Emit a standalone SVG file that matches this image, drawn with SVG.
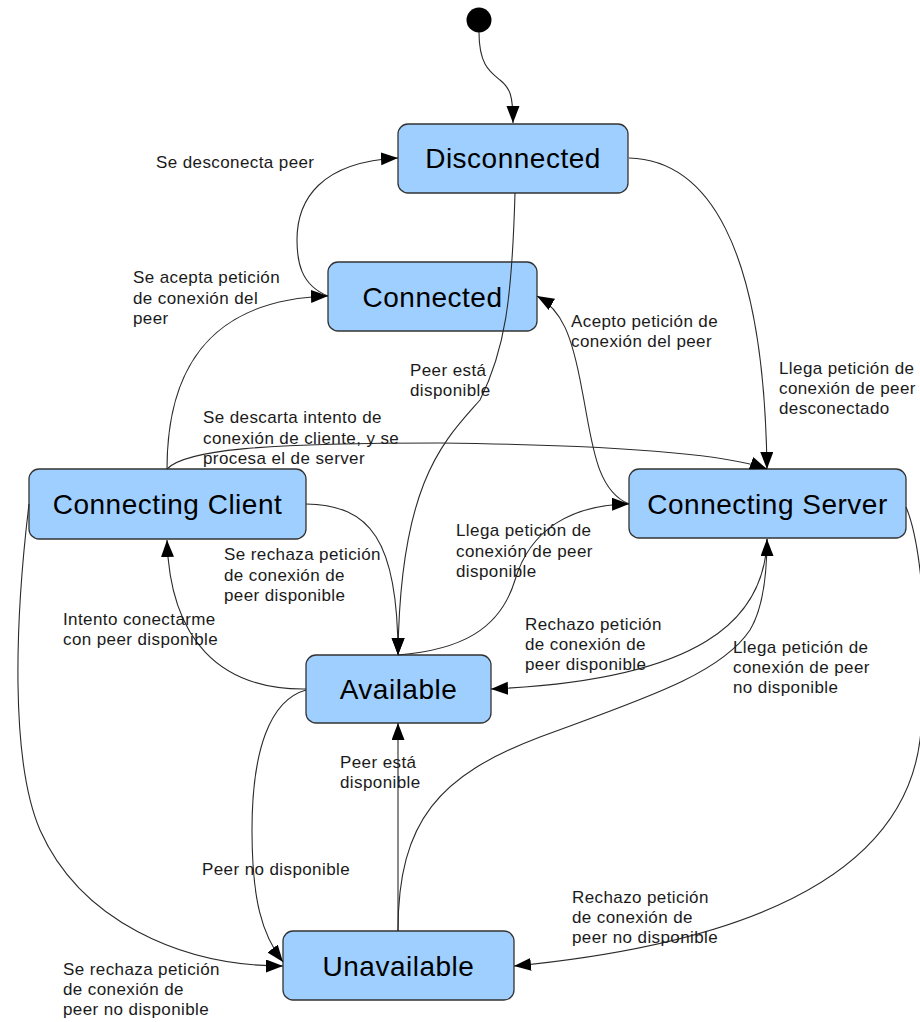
<svg xmlns="http://www.w3.org/2000/svg" width="920" height="1022" viewBox="0 0 920 1022">
  <style>
    .state rect { fill: #9fcfff; stroke: #333333; stroke-width: 1.3; }
    .state text { font-family: "Liberation Sans", Arial, sans-serif; font-size: 28px; letter-spacing: 0.5px; fill: #000000; text-anchor: middle; }
    .edge { fill: none; stroke: #2a2a2a; stroke-width: 1.1; marker-end: url(#arrow); }
    .label { font-family: "Liberation Sans", Arial, sans-serif; font-size: 17px; letter-spacing: 0.4px; fill: #1a1a1a; }
  </style>
  <defs>
    <marker id="arrow" markerUnits="userSpaceOnUse" markerWidth="18" markerHeight="14" refX="17" refY="6.5" orient="auto">
      <path d="M0,0 L17,6.5 L0,13 z" fill="#000000"/>
    </marker>
  </defs>

  <rect width="920" height="1022" fill="#ffffff"/>

  <!-- initial pseudo-state -->
  <g id="initial">
    <circle cx="479" cy="20" r="12.5" fill="#000000"/>
  </g>

  <!-- states -->
  <g id="disconnected" class="state">
    <rect x="398" y="124" width="230" height="69" rx="10" ry="10"/>
    <text x="513" y="168">Disconnected</text>
  </g>
  <g id="connected" class="state">
    <rect x="328" y="262" width="209" height="69" rx="10" ry="10"/>
    <text x="432.5" y="306.5">Connected</text>
  </g>
  <g id="connecting-client" class="state">
    <rect x="29" y="469" width="277" height="70" rx="10" ry="10"/>
    <text x="167.5" y="514">Connecting Client</text>
  </g>
  <g id="connecting-server" class="state">
    <rect x="629" y="469" width="277" height="69" rx="10" ry="10"/>
    <text x="767.5" y="514">Connecting Server</text>
  </g>
  <g id="available" class="state">
    <rect x="306" y="655" width="185" height="68" rx="10" ry="10"/>
    <text x="398.5" y="699">Available</text>
  </g>
  <g id="unavailable" class="state">
    <rect x="283" y="931" width="231" height="69" rx="10" ry="10"/>
    <text x="398.5" y="975.5">Unavailable</text>
  </g>

  <!-- transitions (drawn above the states so crossings stay visible) -->
  <g id="connectors">
    <path class="edge" d="M479,32 C479,65 490,72 500,80 C510,88 513,95 513,123"/>
    <path class="edge" d="M328,296 C300,285 297,260 297,240 C297,200 320,162 398,158"/>
    <path class="edge" d="M167,469 C167,380 200,300 328,296"/>
    <path class="edge" d="M167,469 C185,450 260,443 440,443 C600,445 720,452 767,469"/>
    <path class="edge" d="M515,193 C512,300 505,350 480,400 C445,440 400,480 398,655"/>
    <path class="edge" d="M629,158 C705,160 764,240 767,469"/>
    <path class="edge" d="M629,504 C595,490 592,440 582,390 C572,335 562,310 537,296"/>
    <path class="edge" d="M306,504 C370,505 398,540 398,655"/>
    <path class="edge" d="M306,689 C220,690 170,640 167,540"/>
    <path class="edge" d="M398,655 C460,650 500,630 515,580 C530,530 570,505 629,504"/>
    <path class="edge" d="M767,539 C765,620 700,680 491,689"/>
    <path class="edge" d="M398,931 C398,820 440,775 540,737 C640,700 720,675 750,630 C762,610 767,580 767,539"/>
    <path class="edge" d="M398,931 L398,723"/>
    <path class="edge" d="M306,690 C270,700 252,750 252,830 C252,900 262,935 283,962"/>
    <path class="edge" d="M29,504 C15,620 10,760 40,830 C80,920 180,966 283,966"/>
    <path class="edge" d="M906,507 C920,540 932,640 920,740 C905,860 780,940 514,966"/>
  </g>

  <!-- transition labels -->
  <g id="labels" class="label">
    <text x="156" y="168">Se desconecta peer</text>
    <text x="133" y="283">Se acepta petición<tspan x="133" y="303.5">de conexión del</tspan><tspan x="133" y="324">peer</tspan></text>
    <text x="410" y="376">Peer está<tspan x="410" y="396">disponible</tspan></text>
    <text x="571" y="327">Acepto petición de<tspan x="571" y="347">conexión del peer</tspan></text>
    <text x="779" y="374">Llega petición de<tspan x="779" y="394">conexión de peer</tspan><tspan x="779" y="414">desconectado</tspan></text>
    <text x="203" y="423">Se descarta intento de<tspan x="203" y="443.5">conexión de cliente, y se</tspan><tspan x="203" y="464">procesa el de server</tspan></text>
    <text x="224" y="560">Se rechaza petición<tspan x="224" y="580.5">de conexión de</tspan><tspan x="224" y="601">peer disponible</tspan></text>
    <text x="456" y="536">Llega petición de<tspan x="456" y="556.5">conexión de peer</tspan><tspan x="456" y="577">disponible</tspan></text>
    <text x="63" y="625">Intento conectarme<tspan x="63" y="645">con peer disponible</tspan></text>
    <text x="525" y="630">Rechazo petición<tspan x="525" y="650">de conexión de</tspan><tspan x="525" y="670">peer disponible</tspan></text>
    <text x="733" y="653">Llega petición de<tspan x="733" y="673">conexión de peer</tspan><tspan x="733" y="693">no disponible</tspan></text>
    <text x="340" y="768">Peer está<tspan x="340" y="788">disponible</tspan></text>
    <text x="202" y="875">Peer no disponible</text>
    <text x="572" y="903">Rechazo petición<tspan x="572" y="923">de conexión de</tspan><tspan x="572" y="943">peer no disponible</tspan></text>
    <text x="63" y="975">Se rechaza petición<tspan x="63" y="995">de conexión de</tspan><tspan x="63" y="1015">peer no disponible</tspan></text>
  </g>
</svg>
